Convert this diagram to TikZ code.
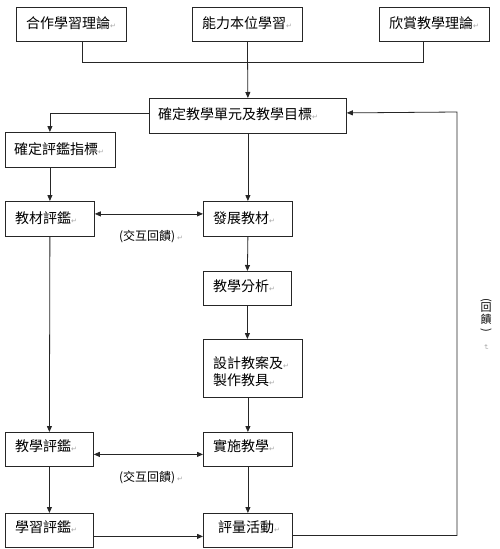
\documentclass[tikz,border=0pt]{standalone}
\usepackage{fontspec}
\usepackage{graphicx}
\usetikzlibrary{arrows.meta,calc}
\newfontfamily\cjk{Noto Sans CJK TC}
\newfontfamily\symf{DejaVu Sans}
\newcommand\retmark{{\symf\color{black!35}\fontsize{7}{7}\selectfont ↵}}
\begin{document}
\begin{tikzpicture}[x=1pt,y=-1pt,
  box/.style={draw=black!85,line width=0.8pt,rectangle,inner sep=0pt,anchor=north west},
  txt/.style={anchor=west,inner sep=0pt,font=\cjk\fontsize{14}{17}\selectfont,align=left},
  lab/.style={inner sep=0pt,font=\cjk\fontsize{12}{14}\selectfont},
  conn/.style={draw=black!85,line width=0.8pt},
  arr/.style={conn,-{Triangle[length=6pt,width=5pt]}},
  darr/.style={conn,{Triangle[length=6pt,width=5pt]}-{Triangle[length=6pt,width=5pt]}}]
\useasboundingbox[fill=white] (0,0) rectangle (500,549);
% boxes
\node[box,minimum width=110pt,minimum height=34pt] (th1) at (16,7) {};
\node[box,minimum width=110pt,minimum height=34pt] (th2) at (192,7) {};
\node[box,minimum width=110pt,minimum height=34pt] (th3) at (379,7) {};
\node[box,minimum width=197pt,minimum height=35pt] (goal) at (149,98) {};
\node[box,minimum width=110pt,minimum height=35pt] (crit) at (5,132) {};
\node[box,minimum width=89pt,minimum height=35pt] (meval) at (5,201) {};
\node[box,minimum width=89pt,minimum height=35pt] (dev) at (203,201) {};
\node[box,minimum width=88pt,minimum height=34pt] (ana) at (203,271) {};
\node[box,minimum width=99pt,minimum height=58pt] (design) at (203,339) {};
\node[box,minimum width=88pt,minimum height=34pt] (teval) at (5,432) {};
\node[box,minimum width=89pt,minimum height=34pt] (impl) at (203,432) {};
\node[box,minimum width=88pt,minimum height=34pt] (leval) at (5,513) {};
\node[box,minimum width=89pt,minimum height=34pt] (act) at (203,513) {};
% texts
\node[txt] (th1t) at ([xshift=10pt,yshift=1pt]th1.west) {合作學習理論\retmark};
\node[txt] (th2t) at ([xshift=10pt,yshift=1pt]th2.west) {能力本位學習\retmark};
\node[txt] (th3t) at ([xshift=10pt,yshift=1pt]th3.west) {欣賞教學理論\retmark};
\node[txt] (goalt) at ([xshift=9pt,yshift=2pt]goal.west) {確定教學單元及教學目標\retmark};
\node[txt] (critt) at ([xshift=9pt,yshift=1pt]crit.west) {確定評鑑指標\retmark};
\node[txt] (mevalt) at ([xshift=10pt,yshift=1pt]meval.west) {教材評鑑\retmark};
\node[txt] (devt) at ([xshift=10pt,yshift=1pt]dev.west) {發展教材\retmark};
\node[txt] (anat) at ([xshift=10pt,yshift=2pt]ana.west) {教學分析\retmark};
\node[txt] (designt) at ([xshift=10pt,yshift=-3pt]design.west) {設計教案及\retmark\\製作教具\retmark};
\node[txt] (tevalt) at ([xshift=10pt,yshift=3pt]teval.west) {教學評鑑\retmark};
\node[txt] (implt) at ([xshift=10pt,yshift=3pt]impl.west) {實施教學\retmark};
\node[txt] (levalt) at ([xshift=10pt,yshift=3pt]leval.west) {學習評鑑\retmark};
\node[txt] (actt) at ([xshift=15pt,yshift=3pt]act.west) {評量活動\retmark};
% labels
\node[lab] (fb1) at (151,237) {(交互回饋)\,\retmark};
\node[lab] (fb2) at (151,478) {(交互回饋)\,\retmark};
\node[lab,align=center,font=\cjk\fontsize{11}{11.5}\selectfont] (fbv) at (486,316) {\rotatebox[origin=c]{-90}{(}\\[-3pt]回\\饋\\[-1pt]\rotatebox[origin=c]{-90}{)}};
\node[inner sep=0pt] (fbm) at (486,347) {\rotatebox[origin=c]{-90}{\retmark}};
% connectors
\draw[conn] ([xshift=11pt]th1.south) -- ++(0,21) coordinate (j1) -| ([xshift=-11pt]th3.south);
\draw[arr] (th2.south) -- (goal.north);
\draw[arr] ([yshift=3pt]goal.west) -| (meval.north |- crit.north);
\draw[arr] (meval.north |- crit.south) -- (meval.north);
\draw[darr] ([yshift=5pt]meval.east) -- ([yshift=5pt]dev.west);
\draw[arr] (goal.south) -- (dev.north);
\draw[arr] (dev.south) -- (ana.north);
\draw[arr] (ana.south) -- (ana.south |- design.north);
\draw[arr] (impl.north |- design.south) -- (impl.north);
\draw[arr] (meval.south) -- (teval.north);
\draw[darr] ([yshift=-5pt]teval.east) -- ([yshift=-5pt]impl.west);
\draw[arr] (teval.south) -- (leval.north);
\draw[arr] (impl.south) -- (act.north);
\draw[arr] ([yshift=-6pt]leval.east) -- ([yshift=-6pt]act.west);
\coordinate (fbc) at (457,112);
\draw[arr] ([yshift=-5pt]act.east) -| (fbc) -- ([yshift=3pt]goal.east);
\end{tikzpicture}
\end{document}
